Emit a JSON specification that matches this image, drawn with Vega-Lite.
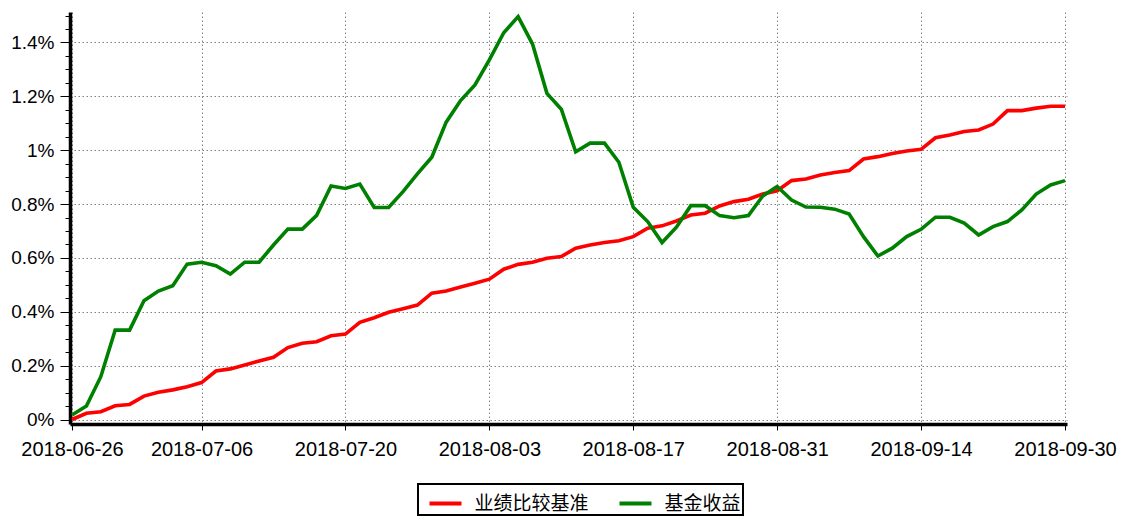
{
  "$schema": "https://vega.github.io/schema/vega-lite/v6.json",
  "width": 997,
  "height": 412,
  "autosize": {"type": "none"},
  "padding": {"left": 70, "top": 12, "right": 55, "bottom": 96},
  "background": "white",
  "config": {
    "font": "Liberation Sans, Noto Sans CJK SC",
    "view": {"stroke": null},
    "legend": {"strokeWidth": 2}
  },
  "data": {
    "values": [
      {"d":"2018-06-26","业绩比较基准":0.000,"基金收益":0.017},
      {"d":"2018-06-27","业绩比较基准":0.023,"基金收益":0.050},
      {"d":"2018-06-28","业绩比较基准":0.029,"基金收益":0.159},
      {"d":"2018-06-29","业绩比较基准":0.051,"基金收益":0.332},
      {"d":"2018-06-30","业绩比较基准":0.056,"基金收益":0.332},
      {"d":"2018-07-02","业绩比较基准":0.087,"基金收益":0.441},
      {"d":"2018-07-03","业绩比较基准":0.101,"基金收益":0.477},
      {"d":"2018-07-04","业绩比较基准":0.110,"基金收益":0.497},
      {"d":"2018-07-05","业绩比较基准":0.122,"基金收益":0.577},
      {"d":"2018-07-06","业绩比较基准":0.137,"基金收益":0.584},
      {"d":"2018-07-09","业绩比较基准":0.180,"基金收益":0.571},
      {"d":"2018-07-10","业绩比较基准":0.188,"基金收益":0.540},
      {"d":"2018-07-11","业绩比较基准":0.202,"基金收益":0.584},
      {"d":"2018-07-12","业绩比较基准":0.217,"基金收益":0.584},
      {"d":"2018-07-13","业绩比较基准":0.231,"基金收益":0.648},
      {"d":"2018-07-16","业绩比较基准":0.267,"基金收益":0.707},
      {"d":"2018-07-17","业绩比较基准":0.283,"基金收益":0.707},
      {"d":"2018-07-18","业绩比较基准":0.289,"基金收益":0.758},
      {"d":"2018-07-19","业绩比较基准":0.311,"基金收益":0.867},
      {"d":"2018-07-20","业绩比较基准":0.317,"基金收益":0.858},
      {"d":"2018-07-23","业绩比较基准":0.361,"基金收益":0.874},
      {"d":"2018-07-24","业绩比较基准":0.378,"基金收益":0.787},
      {"d":"2018-07-25","业绩比较基准":0.398,"基金收益":0.787},
      {"d":"2018-07-26","业绩比较基准":0.411,"基金收益":0.846},
      {"d":"2018-07-27","业绩比较基准":0.425,"基金收益":0.912},
      {"d":"2018-07-30","业绩比较基准":0.469,"基金收益":0.974},
      {"d":"2018-07-31","业绩比较基准":0.477,"基金收益":1.104},
      {"d":"2018-08-01","业绩比较基准":0.492,"基金收益":1.184},
      {"d":"2018-08-02","业绩比较基准":0.506,"基金收益":1.242},
      {"d":"2018-08-03","业绩比较基准":0.521,"基金收益":1.335},
      {"d":"2018-08-06","业绩比较基准":0.558,"基金收益":1.436},
      {"d":"2018-08-07","业绩比较基准":0.576,"基金收益":1.496},
      {"d":"2018-08-08","业绩比较基准":0.584,"基金收益":1.394},
      {"d":"2018-08-09","业绩比较基准":0.599,"基金收益":1.211},
      {"d":"2018-08-10","业绩比较基准":0.605,"基金收益":1.152},
      {"d":"2018-08-13","业绩比较基准":0.636,"基金收益":0.994},
      {"d":"2018-08-14","业绩比较基准":0.648,"基金收益":1.026},
      {"d":"2018-08-15","业绩比较基准":0.657,"基金收益":1.026},
      {"d":"2018-08-16","业绩比较基准":0.664,"基金收益":0.955},
      {"d":"2018-08-17","业绩比较基准":0.679,"基金收益":0.788},
      {"d":"2018-08-20","业绩比较基准":0.710,"基金收益":0.735},
      {"d":"2018-08-21","业绩比较基准":0.719,"基金收益":0.657},
      {"d":"2018-08-22","业绩比较基准":0.737,"基金收益":0.714},
      {"d":"2018-08-23","业绩比较基准":0.759,"基金收益":0.794},
      {"d":"2018-08-24","业绩比较基准":0.766,"基金收益":0.794},
      {"d":"2018-08-27","业绩比较基准":0.793,"基金收益":0.757},
      {"d":"2018-08-28","业绩比较基准":0.809,"基金收益":0.749},
      {"d":"2018-08-29","业绩比较基准":0.818,"基金收益":0.757},
      {"d":"2018-08-30","业绩比较基准":0.837,"基金收益":0.830},
      {"d":"2018-08-31","业绩比较基准":0.849,"基金收益":0.865},
      {"d":"2018-09-03","业绩比较基准":0.887,"基金收益":0.815},
      {"d":"2018-09-04","业绩比较基准":0.893,"基金收益":0.789},
      {"d":"2018-09-05","业绩比较基准":0.908,"基金收益":0.788},
      {"d":"2018-09-06","业绩比较基准":0.917,"基金收益":0.781},
      {"d":"2018-09-07","业绩比较基准":0.924,"基金收益":0.763},
      {"d":"2018-09-10","业绩比较基准":0.967,"基金收益":0.679},
      {"d":"2018-09-11","业绩比较基准":0.976,"基金收益":0.607},
      {"d":"2018-09-12","业绩比较基准":0.988,"基金收益":0.636},
      {"d":"2018-09-13","业绩比较基准":0.997,"基金收益":0.679},
      {"d":"2018-09-14","业绩比较基准":1.003,"基金收益":0.706},
      {"d":"2018-09-17","业绩比较基准":1.046,"基金收益":0.751},
      {"d":"2018-09-18","业绩比较基准":1.056,"基金收益":0.751},
      {"d":"2018-09-19","业绩比较基准":1.069,"基金收益":0.729},
      {"d":"2018-09-20","业绩比较基准":1.075,"基金收益":0.685},
      {"d":"2018-09-21","业绩比较基准":1.097,"基金收益":0.716},
      {"d":"2018-09-25","业绩比较基准":1.147,"基金收益":0.735},
      {"d":"2018-09-26","业绩比较基准":1.147,"基金收益":0.778},
      {"d":"2018-09-27","业绩比较基准":1.156,"基金收益":0.837},
      {"d":"2018-09-28","业绩比较基准":1.163,"基金收益":0.871},
      {"d":"2018-09-30","业绩比较基准":1.163,"基金收益":0.887}
    ]
  },
  "transform": [{"fold": ["业绩比较基准", "基金收益"], "as": ["s", "v"]}],
  "layer": [
    {
      "mark": {"type": "line", "strokeWidth": 3.6, "strokeJoin": "miter", "clip": false},
      "encoding": {
        "x": {
          "field": "d",
          "type": "ordinal",
          "scale": {"type": "point", "padding": 0.14},
          "axis": {
            "title": null,
            "values": ["2018-06-26","2018-07-06","2018-07-20","2018-08-03","2018-08-17","2018-08-31","2018-09-14","2018-09-30"],
            "labelAngle": 0,
            "labelFontSize": 20,
            "labelColor": "black",
            "labelPadding": 9,
            "tickSize": 6,
            "tickColor": "black",
            "domainColor": "black",
            "domainWidth": 3.5,
            "grid": true,
            "gridColor": "#808080",
            "gridDash": [1.5, 2.5],
            "gridWidth": 1
          }
        },
        "y": {
          "field": "v",
          "type": "quantitative",
          "scale": {"domain": [-0.0167, 1.513], "nice": false, "zero": false},
          "axis": {
            "title": null,
            "values": [0, 0.2, 0.4, 0.6, 0.8, 1.0, 1.2, 1.4],
            "labelExpr": "format(datum.value, '.1~f') + '%'",
            "labelFontSize": 19,
            "labelColor": "black",
            "labelPadding": 6,
            "tickSize": 10,
            "tickColor": "black",
            "domainColor": "black",
            "domainWidth": 3.5,
            "grid": true,
            "gridColor": "#808080",
            "gridDash": [1.5, 2.5],
            "gridWidth": 1
          }
        },
        "color": {
          "field": "s",
          "type": "nominal",
          "sort": ["业绩比较基准", "基金收益"],
          "scale": {"domain": ["业绩比较基准", "基金收益"], "range": ["#ff0000", "#008000"]},
          "legend": {
            "title": null,
            "orient": "none",
            "legendX": 348,
            "legendY": 472,
            "direction": "horizontal",
            "columns": 2,
            "symbolType": "stroke",
            "symbolSize": 1024,
            "symbolStrokeWidth": 4,
            "symbolOffset": 8,
            "labelFontSize": 19,
            "labelColor": "black",
            "labelOffset": 11,
            "columnPadding": 20,
            "padding": 1.5,
            "strokeColor": "black",
            "fillColor": "white",
            "encode": {"legend": {"update": {"width": {"value": 386}}}}
          }
        }
      }
    },
    {
      "mark": {"type": "tick", "opacity": 0},
      "encoding": {
        "y": {
          "field": "v",
          "type": "quantitative",
          "axis": {
            "title": null,
            "orient": "left",
            "values": [0.05, 0.1, 0.15, 0.25, 0.3, 0.35, 0.45, 0.5, 0.55, 0.65, 0.7, 0.75, 0.85, 0.9, 0.95, 1.05, 1.1, 1.15, 1.25, 1.3, 1.35, 1.45, 1.5],
            "labels": false,
            "domain": false,
            "grid": false,
            "tickSize": 5,
            "tickColor": "black"
          }
        }
      }
    }
  ],
  "resolve": {"axis": {"y": "independent"}}
}
